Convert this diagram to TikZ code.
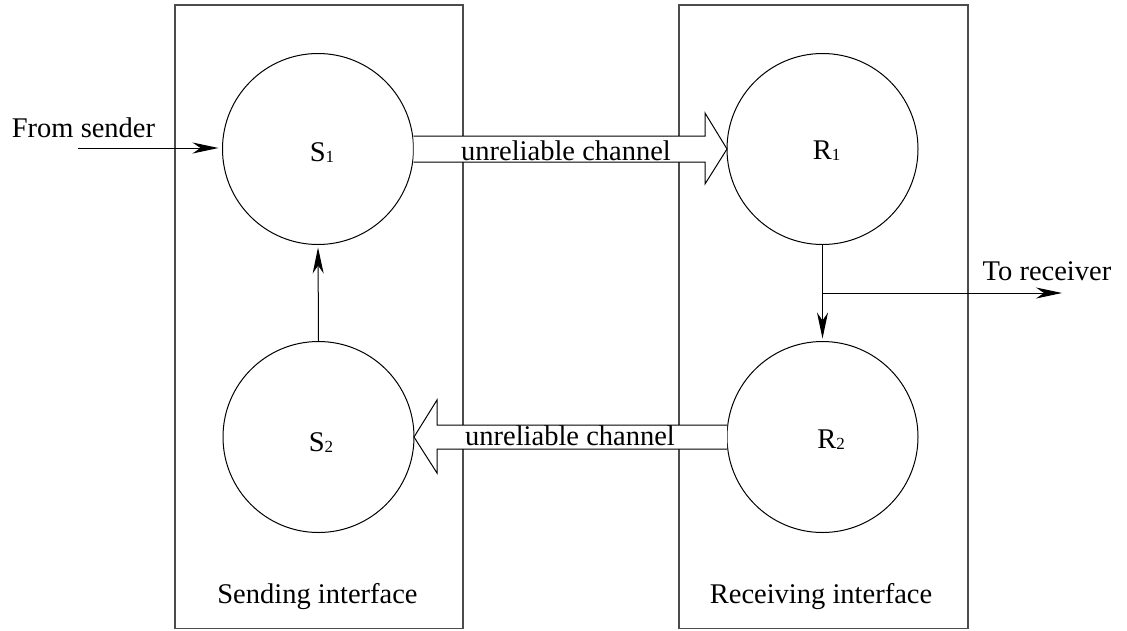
\documentclass[tikz,border=0pt]{standalone}
\usepackage{fontspec}
\setmainfont{Liberation Serif}
\usetikzlibrary{arrows.meta,calc}

\newcommand{\subidx}[1]{{\fontsize{17}{17}\selectfont\raisebox{-1.5pt}{#1}}}

\tikzset{
  txt/.style={font=\fontsize{28.5}{34}\selectfont, inner sep=0pt, outer sep=0pt},
  ifacebox/.style={draw=black!70, line width=1.2pt},
  proc/.style={draw, circle, line width=1pt, minimum size=191pt, inner sep=0pt, outer sep=0pt},
  flow/.style={draw, line width=1pt, -{Stealth[length=26pt, width=11pt, inset=8pt]}},
  blockarrow/.style={draw, fill=white, line width=1pt, line join=miter}
}

\begin{document}
\begin{tikzpicture}[x=1pt, y=-1pt]
  \useasboundingbox (0,0) rectangle (1127,630);

  % interface frames
  \draw[ifacebox] (175,5) rectangle (463,628.5);
  \draw[ifacebox] (679,5) rectangle (968,628.5);

  % processes
  \node[proc] (s1) at (318,149) {};
  \node[proc] (s2) at (318.5,437) {};
  \node[proc] (r1) at (822.5,149) {};
  \node[proc] (r2) at (822.5,437) {};

  \node[txt, anchor=base] (s1l) at (322,161) {S\subidx{1}};
  \node[txt, anchor=base] (s2l) at (321,451) {S\subidx{2}};
  \node[txt, anchor=base] (r1l) at (826.5,159) {R\subidx{1}};
  \node[txt, anchor=base] (r2l) at (831,448) {R\subidx{2}};

  % frame captions
  \node[txt, anchor=base] (sendcap) at (317.5,603) {Sending interface};
  \node[txt, anchor=base] (recvcap) at (821,603) {Receiving interface};

  % unreliable channels (block arrows over the frames)
  \draw[blockarrow]
    ($(s1.east)+(0,-13)$) -- ($(r1.west)+(-22,-13)$) -- ($(r1.west)+(-22,-36)$)
    -- (r1.west) -- ($(r1.west)+(-22,35)$) -- ($(r1.west)+(-22,13)$)
    -- ($(s1.east)+(0,13)$);
  \node[txt, anchor=base] (ch1) at (566,160) {unreliable channel};

  \draw[blockarrow]
    ($(r2.west)+(0,-12)$) -- ($(s2.east)+(23,-12)$) -- ($(s2.east)+(23,-37)$)
    -- (s2.east) -- ($(s2.east)+(23,36)$) -- ($(s2.east)+(23,12)$)
    -- ($(r2.west)+(0,12)$);
  \node[txt, anchor=base] (ch2) at (570,445) {unreliable channel};

  % input from the sender
  \node[txt, anchor=base] (from) at (83.5,137) {From sender};
  \coordinate (src) at (78,148);
  \draw[flow, shorten >=4pt] (src) -- (s1.west |- src);

  % internal flows
  \draw[flow, shorten >=3pt] (s2.north) -- (s1.south);
  \draw[flow, shorten >=3pt] (r1.south) -- (r2.north);

  % output to the receiver
  \coordinate (tap) at ($(r1.south)!0.5!(r2.north)$);
  \coordinate (dst) at (1062,293);
  \draw[flow] (tap) -- (tap -| dst);
  \node[txt, anchor=base] (to) at (1047,280) {To receiver};
\end{tikzpicture}
\end{document}
